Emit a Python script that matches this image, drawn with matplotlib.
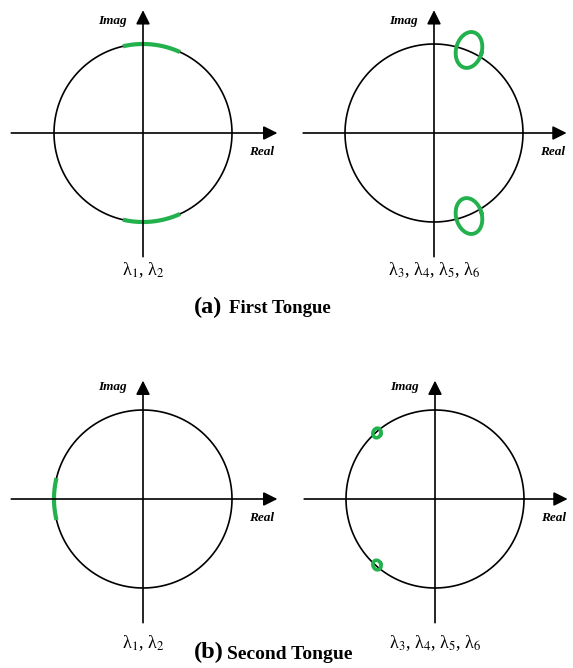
import matplotlib.pyplot as plt
import numpy as np

plt.rcParams['font.family'] = 'Liberation Serif'
plt.rcParams['mathtext.fontset'] = 'stix'

# Eigenvalue loci on the unit circle (angles in degrees)
arc_first = (65.4, 103.0)      # lambda1, lambda2 - first tongue
arc_second = (166.4, 193.6)    # lambda1, lambda2 - second tongue

# Loops traced by lambda3..lambda6: centre, semi-axes, tilt (deg)
loop_first = dict(center=(0.393, 0.933), axes=(0.145, 0.205), tilt=-15)
loop_second = dict(center=(-0.652, 0.742), axes=(0.045, 0.055), tilt=-20)

labels_12 = 'λ$_1$, λ$_2$'
labels_36 = 'λ$_3$, λ$_4$, λ$_5$, λ$_6$'

GREEN = '#22b14c'
W, H = 573, 668
S = 89.0   # pixels per unit
HALF = 1.62

fig = plt.figure(figsize=(W / 100, H / 100), dpi=100)


def panel(cx, cy):
    ax = fig.add_axes([(cx - HALF * S) / W, (H - cy - HALF * S) / H,
                       2 * HALF * S / W, 2 * HALF * S / H])
    ax.set_xlim(-HALF, HALF)
    ax.set_ylim(-HALF, HALF)
    ax.axis('off')
    t = np.linspace(0, 2 * np.pi, 400)
    ax.plot(np.cos(t), np.sin(t), color='black', lw=1.2, zorder=2)
    return ax


def draw_axes(ax, ytop, xl, xr):
    ap = dict(arrowstyle='-|>,head_length=0.6,head_width=0.3', color='black',
              lw=1.2, mutation_scale=14, shrinkA=0, shrinkB=0)
    ax.annotate('', xy=(xr, 0), xytext=(xl, 0), arrowprops=ap, zorder=4)
    ax.annotate('', xy=(0, ytop), xytext=(0, -1.39), arrowprops=ap, zorder=4)
    ax.text(-0.34, 1.26, 'Imag', ha='center', va='center', fontsize=9.5,
            fontweight='bold', fontstyle='italic')
    ax.text(1.33, -0.21, 'Real', ha='center', va='center', fontsize=9.5,
            fontweight='bold', fontstyle='italic')


def draw_arc(ax, a0, a1):
    t = np.radians(np.linspace(a0, a1, 100))
    ax.plot(np.cos(t), np.sin(t), color=GREEN, lw=3, solid_capstyle='butt', zorder=3)


def draw_loop(ax, center, axes, tilt, lw):
    # loop and its complex-conjugate mirror
    t = np.linspace(0, 2 * np.pi, 200)
    a, b = axes
    x, y = a * np.cos(t), b * np.sin(t)
    th = np.radians(tilt)
    xr = x * np.cos(th) - y * np.sin(th)
    yr = x * np.sin(th) + y * np.cos(th)
    cx, cy = center
    ax.plot(cx + xr, cy + yr, color=GREEN, lw=lw, zorder=3)
    ax.plot(cx + xr, -(cy + yr), color=GREEN, lw=lw, zorder=3)


# (a) First tongue
ax = panel(143, 133)
draw_arc(ax, *arc_first)
draw_arc(ax, -arc_first[1], -arc_first[0])
draw_axes(ax, 1.38, -1.48, 1.51)
ax.text(0, -1.54, labels_12, ha='center', va='center', fontsize=13)

ax = panel(434, 133)
draw_loop(ax, lw=2.8, **loop_first)
draw_axes(ax, 1.38, -1.47, 1.49)
ax.text(0, -1.54, labels_36, ha='center', va='center', fontsize=13)

# (b) Second tongue
ax = panel(143, 499)
draw_arc(ax, *arc_second)
draw_axes(ax, 1.33, -1.48, 1.51)
ax.text(0, -1.62, labels_12, ha='center', va='center', fontsize=13)

ax = panel(435, 499)
draw_loop(ax, lw=2.6, **loop_second)
draw_axes(ax, 1.33, -1.47, 1.49)
ax.text(0, -1.62, labels_36, ha='center', va='center', fontsize=13)

# captions
fig.text(194 / W, 1 - 313 / H, '(a)', fontsize=17.5, fontweight='bold', va='baseline')
fig.text(229 / W, 1 - 313 / H, 'First Tongue', fontsize=13.5, fontweight='bold', va='baseline')
fig.text(194 / W, 1 - 658 / H, '(b)', fontsize=17.5, fontweight='bold', va='baseline')
fig.text(227 / W, 1 - 659 / H, 'Second Tongue', fontsize=14, fontweight='bold', va='baseline')

fig.savefig('out.png', dpi=100)
